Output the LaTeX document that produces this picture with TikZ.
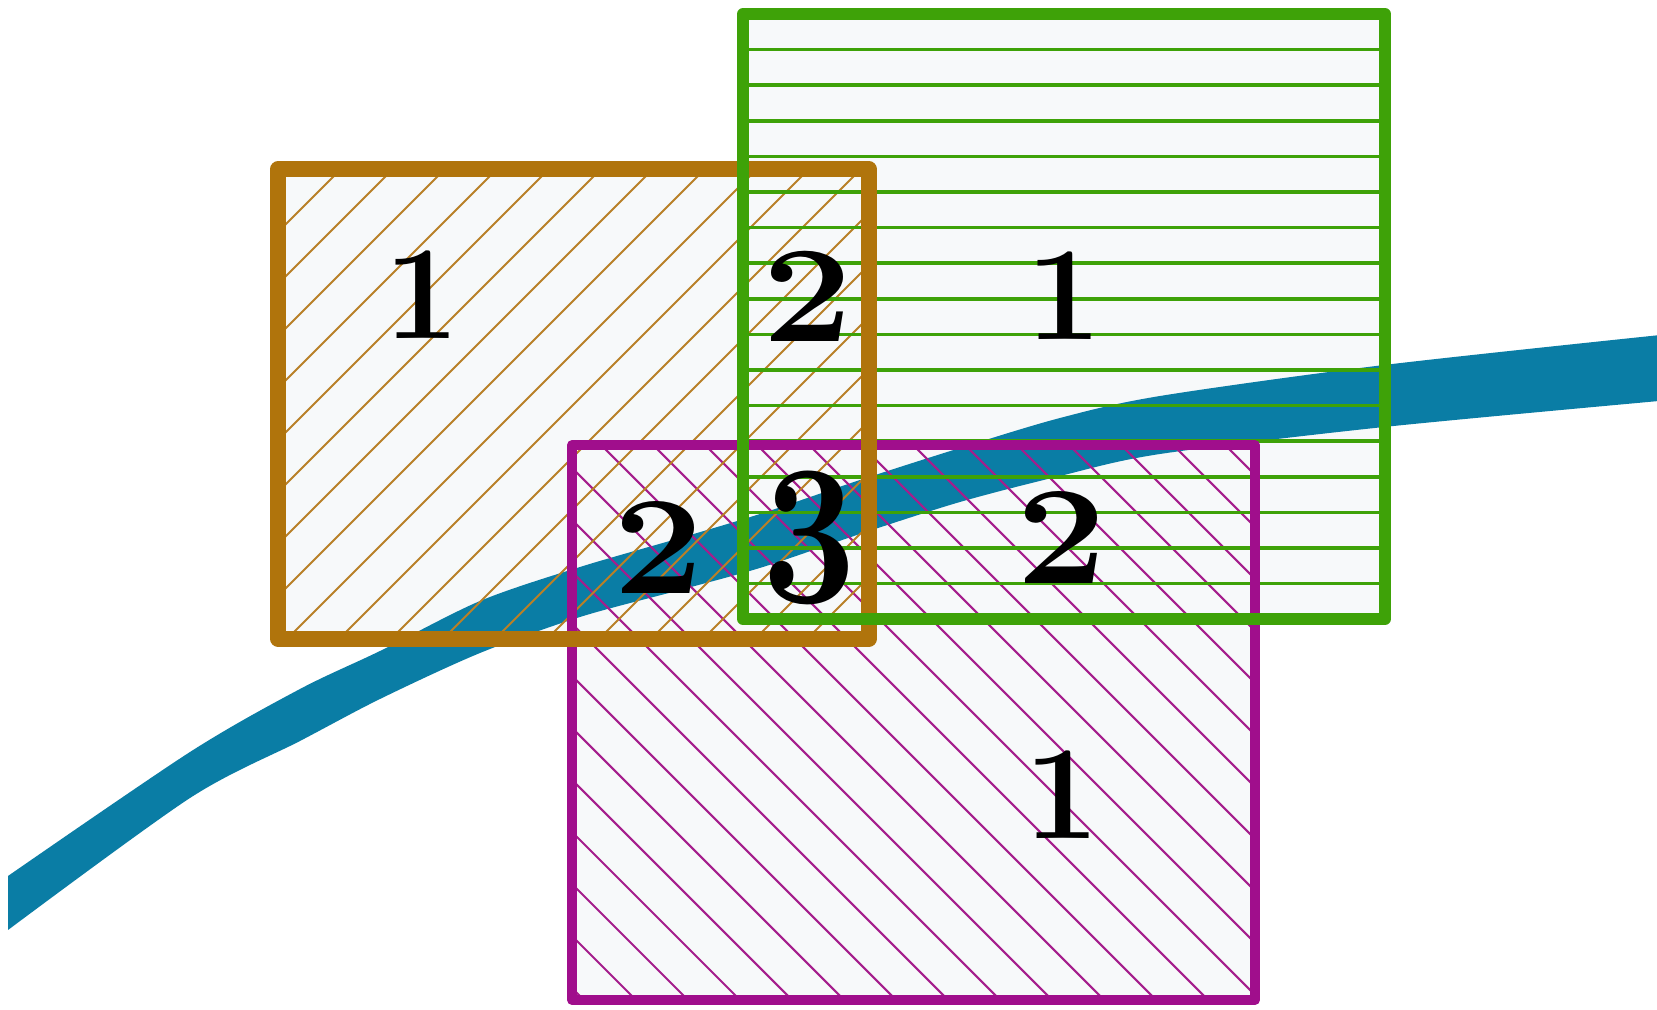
\documentclass[tikz,border=0pt]{standalone}
\usepackage{fontspec}
\usepackage{graphicx}
\usetikzlibrary{calc}

\definecolor{riverblue}{RGB}{10,125,165}
\definecolor{boxbrown}{RGB}{176,116,12}
\definecolor{hatchbrown}{RGB}{185,128,40}
\definecolor{boxgreen}{RGB}{62,162,8}
\definecolor{boxmagenta}{RGB}{160,14,140}
\definecolor{hatchmagenta}{RGB}{165,30,140}
\definecolor{paper}{RGB}{247,249,250}

\begin{document}
\begin{tikzpicture}[
  x=0.01cm, y=-0.01cm,
  river/.style={fill=riverblue},
  paperfill/.style={fill=paper},
  brownbox/.style={draw=boxbrown, line width=4.3pt, line join=round},
  greenbox/.style={draw=boxgreen, line width=3.4pt, line join=round},
  magentabox/.style={draw=boxmagenta, line width=2.8pt, line join=round},
  brownhatch/.style={draw=hatchbrown, line width=0.6pt},
  greenhatch/.style={draw=boxgreen, line width=1pt},
  magentahatch/.style={draw=hatchmagenta, line width=0.6pt},
  num/.style={font=\fontsize{38}{40}\selectfont\bfseries, inner sep=0pt}
]
  \useasboundingbox[fill=white] (0,0) rectangle (1657,1010);

  % corners of the three boxes
  \coordinate (bNW) at (278,169);  \coordinate (bSE) at (869,639);
  \coordinate (gNW) at (743,14);   \coordinate (gSE) at (1385,619);
  \coordinate (mNW) at (572,445);  \coordinate (mSE) at (1255,1000);

  \fill[paperfill] (bNW) rectangle (bSE);
  \fill[paperfill] (gNW) rectangle (gSE);
  \fill[paperfill] (mNW) rectangle (mSE);

  % the river
  \fill[river] plot[smooth] coordinates {(8,876) (190,752) (300,689) (380,651)
      (480,601) (580,567) (680,538) (763,513) (860,480) (960,448) (1060,418)
      (1160,396) (1384,365) (1670,334)}
    -- plot[smooth] coordinates {(1670,400) (1384,427) (1160,454) (1060,476)
      (960,502) (860,534) (763,567) (680,590) (580,617) (480,653) (380,699)
      (300,741) (190,798) (8,930)} -- cycle;

  % hatching
  \begin{scope}
    \clip (mNW) rectangle (mSE);
    \foreach \off in {-468,-416,...,832}
      \draw[magentahatch] (\off,0) -- (\off+1100,1100);
  \end{scope}
  \begin{scope}
    \clip (bNW) rectangle (bSE);
    \foreach \off in {458,510,...,1550}
      \draw[brownhatch] (\off-800,800) -- (\off,0);
  \end{scope}
  \foreach \k in {1,...,16}
    \draw[greenhatch] (743,14+35.6*\k) -- (1385,14+35.6*\k);

  % frames
  \draw[magentabox] (mNW) rectangle (mSE);
  \draw[brownbox] (bNW) rectangle (bSE);
  \draw[greenbox] (gNW) rectangle (gSE);

  % counts
  \node[num] (bOne)   at (422,295)  {1};
  \node[num] (bgTwo)  at (808,296)  {\scalebox{1.2}[1.03]{2}};
  \node[num] (gOne)   at (1064,296) {1};
  \node[num] (bmTwo)  at (659,547)  {\scalebox{1.2}[1.05]{2}};
  \node[num] (bgmThree) at (810,538) {\scalebox{1.25}[1.5]{3}};
  \node[num] (gmTwo)  at (1062,537) {\scalebox{1.2}[1.05]{2}};
  \node[num] (mOne)   at (1062,795) {1};
\end{tikzpicture}
\end{document}
